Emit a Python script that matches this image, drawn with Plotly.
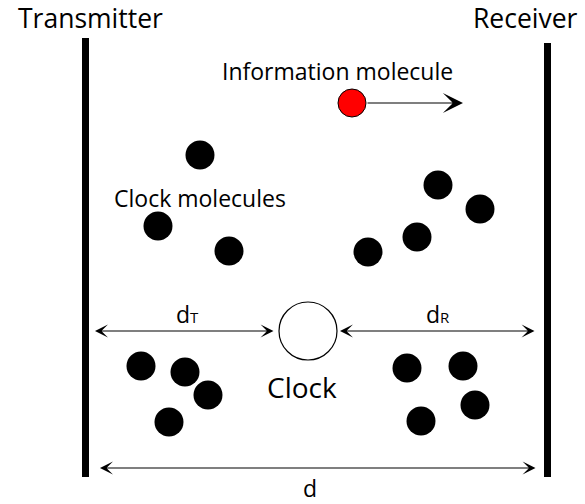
import plotly.graph_objects as go

# ---- data (pixel-space diagram coordinates) ----
clock_mol_x = [200, 158, 229, 438, 480, 417, 368, 141, 185, 208, 169, 407, 463, 475, 421]
clock_mol_y = [155, 226, 251, 185, 209, 237, 252, 366, 372, 395, 422, 368, 366, 405, 421]

info_mol_x = [352]
info_mol_y = [103]

clock_x = [308]
clock_y = [331]

wall_left_x = [85.5, 85.5]
wall_left_y = [38, 477]
wall_right_x = [547.5, 547.5]
wall_right_y = [43, 477]

# arrows: (x_tail, y_tail, x_head, y_head, both_ends)
arrows = [
    (366, 103, 463, 103, False),
    (275, 331, 95, 331, True),
    (536, 331, 340, 331, True),
    (537, 468, 100, 468, True),
]

labels = [
    ("Transmitter", 90, 18, 26.5),
    ("Receiver", 525, 18, 26.5),
    ("Information molecule", 337, 71, 23),
    ("Clock molecules", 200, 198, 23),
    ("Clock", 302, 387, 28),
    ("d<span style='font-size:15px'>T</span>", 187, 314, 23),
    ("d<span style='font-size:15px'>R</span>", 438, 314, 23),
    ("d", 310, 488, 23),
]

FONT = "Open Sans"

fig = go.Figure()

for wx, wy in [(wall_left_x, wall_left_y), (wall_right_x, wall_right_y)]:
    fig.add_trace(go.Scatter(x=wx, y=wy, mode="lines",
                             line=dict(color="black", width=7),
                             hoverinfo="skip", showlegend=False))

fig.add_trace(go.Scatter(x=clock_mol_x, y=clock_mol_y, mode="markers",
                         marker=dict(size=29, color="black", line=dict(width=0)),
                         hoverinfo="skip", showlegend=False))

fig.add_trace(go.Scatter(x=info_mol_x, y=info_mol_y, mode="markers",
                         marker=dict(size=28, color="#ff0000",
                                     line=dict(color="black", width=1)),
                         hoverinfo="skip", showlegend=False))

fig.add_trace(go.Scatter(x=clock_x, y=clock_y, mode="markers",
                         marker=dict(size=58, color="white",
                                     line=dict(color="black", width=1.2)),
                         hoverinfo="skip", showlegend=False))

for i, (xt, yt, xh, yh, both) in enumerate(arrows):
    fig.add_annotation(x=xh, y=yh, ax=xt, ay=yt, xref="x", yref="y",
                       axref="x", ayref="y", text="", showarrow=True,
                       arrowhead=3, startarrowhead=3,
                       arrowside="end+start" if both else "end",
                       arrowsize=2.8 if i == 0 else 1.8,
                       startarrowsize=1.8,
                       arrowwidth=1.2, arrowcolor="black",
                       standoff=0, startstandoff=0)

for txt, x, y, size in labels:
    fig.add_annotation(x=x, y=y, xref="x", yref="y", text=txt,
                       showarrow=False, xanchor="center", yanchor="middle",
                       borderpad=0,
                       font=dict(family=FONT, size=size, color="black"))

fig.update_xaxes(range=[0, 585], visible=False, fixedrange=True)
fig.update_yaxes(range=[504, 0], visible=False, fixedrange=True)
fig.update_layout(width=585, height=504, margin=dict(l=0, r=0, t=0, b=0),
                  plot_bgcolor="white", paper_bgcolor="white",
                  hovermode=False)

fig.write_html("out.html",
               config={"displayModeBar": False, "staticPlot": True},
               post_script="document.body.style.margin='0';"
                           "document.body.style.overflow='hidden';")
